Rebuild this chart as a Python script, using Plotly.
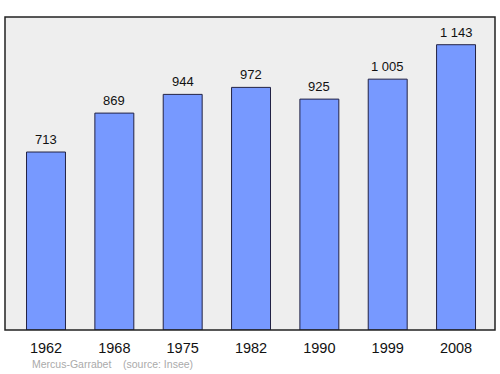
import plotly.graph_objects as go

years = ["1962", "1968", "1975", "1982", "1990", "1999", "2008"]
population = [713, 869, 944, 972, 925, 1005, 1143]
labels = ["713", "869", "944", "972", "925", "1 005", "1 143"]

fig = go.Figure()
fig.add_trace(go.Bar(
    x=list(range(len(years))), y=population, width=0.57,
    marker=dict(color="#7799ff", line=dict(color="#222244", width=1)),
    hoverinfo="skip",
))
for i, (v, t) in enumerate(zip(population, labels)):
    fig.add_annotation(x=i, y=v, text=t, showarrow=False, yanchor="bottom",
                       yshift=3, font=dict(size=13, color="#111111",
                                           family="Liberation Sans, Arial"))

fig.add_shape(type="rect", xref="paper", yref="paper", x0=0, y0=0, x1=1, y1=1,
              line=dict(color="#222222", width=1.5), layer="above")

fig.add_annotation(xref="paper", yref="paper", x=(30-5)/490, y=(330-364)/313,
                   xanchor="left", yanchor="middle", showarrow=False,
                   text="Mercus-Garrabet&nbsp;&nbsp;&nbsp;&nbsp;(source: Insee)",
                   font=dict(size=10.5, color="#aaaaaa", family="Liberation Sans, Arial"))

fig.update_layout(
    width=500, height=374,
    margin=dict(l=5, r=5, t=17, b=44),
    paper_bgcolor="white", plot_bgcolor="#eeeeee",
    showlegend=False,
    xaxis=dict(range=[-0.6, 6.57], tickmode="array", tickvals=list(range(len(years))),
               ticktext=years, showgrid=False, zeroline=False, ticks="",
               ticklabelstandoff=7,
               tickfont=dict(size=14.5, color="#111111", family="Liberation Sans, Arial")),
    yaxis=dict(range=[0, 1254], showgrid=False, zeroline=False, showticklabels=False),
)
fig.write_html("out.html")
